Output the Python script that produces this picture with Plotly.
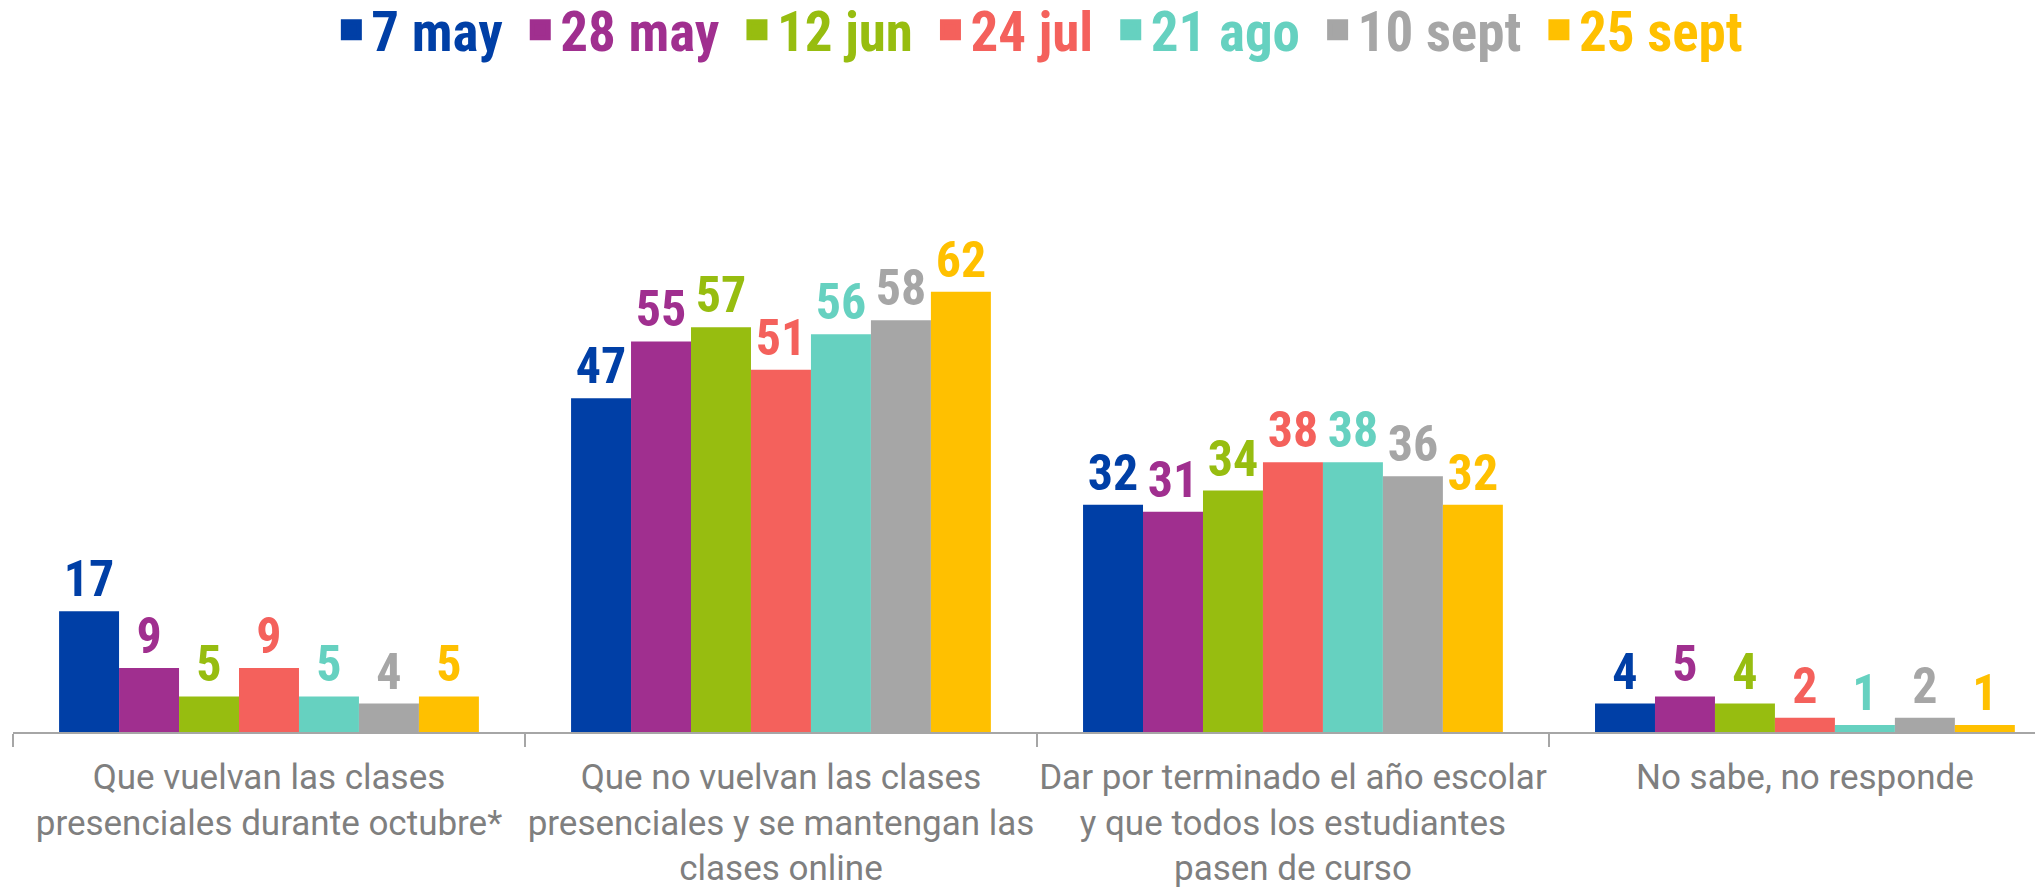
import plotly.graph_objects as go

categories = [
    "Que vuelvan las clases<br>presenciales durante octubre*",
    "Que no vuelvan las clases<br>presenciales y se mantengan las<br>clases online",
    "Dar por terminado el año escolar<br>y que todos los estudiantes<br>pasen de curso",
    "No sabe, no responde",
]
series = ["7 may", "28 may", "12 jun", "24 jul", "21 ago", "10 sept", "25 sept"]
colors = ["#003FA6", "#A02F8F", "#97BD10", "#F4615C", "#66D1C0", "#A6A6A6", "#FFC000"]

may7 = [17, 47, 32, 4]
may28 = [9, 55, 31, 5]
jun12 = [5, 57, 34, 4]
jul24 = [9, 51, 38, 2]
ago21 = [5, 56, 38, 1]
sept10 = [4, 58, 36, 2]
sept25 = [5, 62, 32, 1]
values = [may7, may28, jun12, jul24, ago21, sept10, sept25]

FONT = "Liberation Sans Narrow, Roboto Condensed, Arial Narrow, Roboto, sans-serif"

fig = go.Figure()
for name, col, vals in zip(series, colors, values):
    fig.add_trace(go.Bar(
        x=categories, y=vals, showlegend=False,
        marker=dict(color=col, line=dict(width=0)),
        text=[f"<b>{v}</b>" for v in vals], textposition="outside",
        textfont=dict(color=col, size=50, family=FONT),
        cliponaxis=False,
    ))
# legend entries: bigger squares than the bar legend symbol
for name, col in zip(series, colors):
    fig.add_trace(go.Scatter(
        x=[None], y=[None], mode="markers",
        name=f"<b><span style='color:{col}'>{name}</span></b>\u00a0",
        marker=dict(symbol="square", size=16, color=col, line=dict(color=col, width=5)),
    ))

# the page body adds an 8px margin, so the figure is 8px smaller
fig.update_layout(
    width=2035, height=881,
    barmode="group", bargap=0.18, bargroupgap=0,
    plot_bgcolor="white", paper_bgcolor="white",
    margin=dict(l=5, r=0, t=92, b=157, autoexpand=False),
    font=dict(family=FONT),
    legend=dict(orientation="h", xref="container", x=0.51, xanchor="center",
                yref="container", y=0.975, yanchor="middle",
                font=dict(size=55, family=FONT), itemwidth=30, traceorder="normal"),
    xaxis=dict(range=[-0.5, 3.465], showline=True, linecolor="#A6A6A6", linewidth=2,
               ticks="outside", tickson="boundaries", ticklen=13, tickcolor="#A6A6A6", tickwidth=1.5,
               tickangle=0, automargin=False,
               tickfont=dict(size=35, color="#7F7F7F", family="Roboto, sans-serif"),
               ticklabelstandoff=13),
    yaxis=dict(range=[0, 89], visible=False),
)

fig.write_html("out.html")
